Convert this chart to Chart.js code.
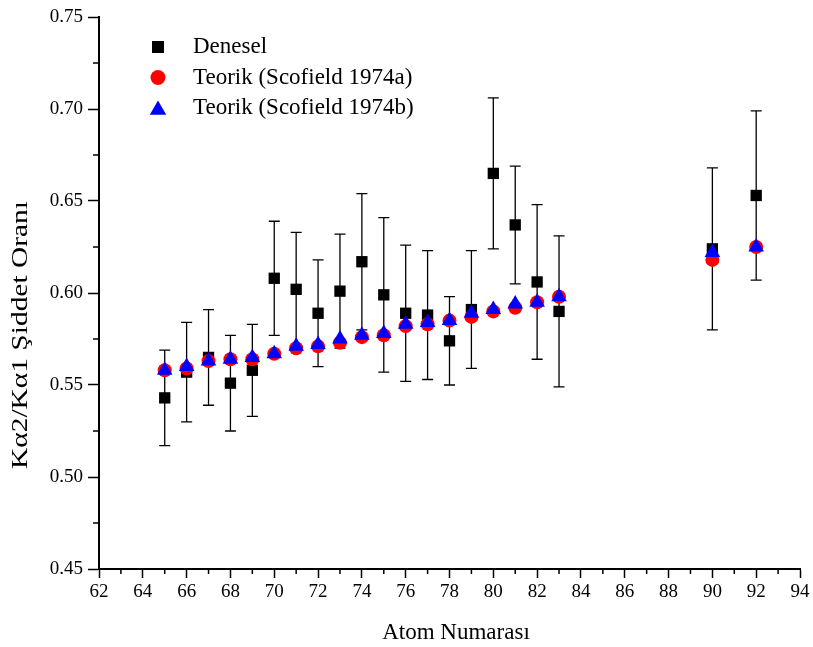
<!DOCTYPE html>
<html>
<head>
<meta charset="utf-8">
<script src="https://cdn.jsdelivr.net/npm/chart.js@4/dist/chart.umd.min.js"></script>
<style>
  html, body { margin: 0; padding: 0; background: #fff; }
  #wrap { width: 813px; height: 647px; }
</style>
</head>
<body>
<div id="wrap"><canvas id="ratioChart"></canvas></div>
<script>
// values
const atomNo = [65, 66, 67, 68, 69, 70, 71, 72, 73, 74, 75, 76, 77, 78, 79, 80, 81, 82, 83, 90, 92];
const denesel = [0.543, 0.557, 0.565, 0.551, 0.558, 0.608, 0.602, 0.589, 0.601, 0.617, 0.599,
  0.589, 0.588, 0.574, 0.591, 0.665, 0.637, 0.606, 0.590, 0.624, 0.653];
const deneselErr = [0.026, 0.027, 0.026, 0.026, 0.025, 0.031, 0.031, 0.029, 0.031, 0.037, 0.042,
  0.037, 0.035, 0.024, 0.032, 0.041, 0.032, 0.042, 0.041, 0.044, 0.046];
const scofieldA = [0.558, 0.559, 0.563, 0.564, 0.564, 0.567, 0.570, 0.571, 0.573, 0.576, 0.577,
  0.582, 0.583, 0.585, 0.587, 0.590, 0.592, 0.595, 0.598, 0.618, 0.625];
const scofieldB = [0.558, 0.560, 0.563, 0.564, 0.565, 0.567, 0.571, 0.572, 0.575, 0.577, 0.578,
  0.583, 0.584, 0.585, 0.589, 0.591, 0.594, 0.595, 0.598, 0.622, 0.625];
const seriesLabels = ['Denesel', 'Teorik (Scofield 1974a)', 'Teorik (Scofield 1974b)'];
const xTickValues = [62, 64, 66, 68, 70, 72, 74, 76, 78, 80, 82, 84, 86, 88, 90, 92, 94];
const yTickValues = [0.45, 0.50, 0.55, 0.60, 0.65, 0.70, 0.75];
const xTitle = 'Atom Numarası';
const yTitle = 'Kα2/Kα1 Şiddet Oranı';

const serif = "'Liberation Serif', 'Times New Roman', serif";
const toPoints = (ys) => atomNo.map((z, i) => ({ x: z, y: ys[i] }));

// error bars for the experimental series, drawn under the markers
const errorBars = {
  id: 'errorBars',
  beforeDatasetsDraw(chart) {
    const { ctx, scales: { x, y } } = chart;
    ctx.save();
    ctx.strokeStyle = '#000';
    ctx.lineWidth = 1.3;
    atomNo.forEach((z, i) => {
      const px = x.getPixelForValue(z);
      const top = y.getPixelForValue(denesel[i] + deneselErr[i]);
      const bot = y.getPixelForValue(denesel[i] - deneselErr[i]);
      ctx.beginPath();
      ctx.moveTo(px, top); ctx.lineTo(px, bot);
      ctx.moveTo(px - 5.5, top); ctx.lineTo(px + 5.5, top);
      ctx.moveTo(px - 5.5, bot); ctx.lineTo(px + 5.5, bot);
      ctx.stroke();
    });
    ctx.restore();
  }
};

// short minor ticks between the labelled ones
const minorTicks = {
  id: 'minorTicks',
  afterDraw(chart) {
    const { ctx, scales: { x, y }, chartArea } = chart;
    ctx.save();
    ctx.strokeStyle = '#000';
    ctx.lineWidth = 1.5;
    ctx.beginPath();
    xTickValues.slice(0, -1).forEach((v) => {
      const px = x.getPixelForValue(v + 1);
      ctx.moveTo(px, chartArea.bottom);
      ctx.lineTo(px, chartArea.bottom + 5);
    });
    yTickValues.slice(0, -1).forEach((v) => {
      const py = y.getPixelForValue(v + 0.025);
      ctx.moveTo(chartArea.left, py);
      ctx.lineTo(chartArea.left - 6, py);
    });
    ctx.stroke();
    ctx.restore();
  }
};

// axis titles, placed by hand like the original
const axisTitles = {
  id: 'axisTitles',
  afterDraw(chart) {
    const { ctx } = chart;
    ctx.save();
    ctx.fillStyle = '#000';
    ctx.font = '23px ' + serif;
    ctx.textAlign = 'center';
    ctx.textBaseline = 'middle';
    ctx.fillText(xTitle, 456, 633);
    ctx.translate(21, 335);
    ctx.rotate(-Math.PI / 2);
    ctx.scale(1.28, 1);
    ctx.fillText(yTitle, 0, 0);
    ctx.restore();
  }
};

// legend placed inside the plot, top left
const innerLegend = {
  id: 'innerLegend',
  afterDraw(chart) {
    const { ctx } = chart;
    ctx.save();
    ctx.font = '23px ' + serif;
    ctx.textBaseline = 'middle';
    chart.data.datasets.forEach((ds, i) => {
      const yy = 47 + i * 30.5;
      ctx.fillStyle = ds.backgroundColor;
      Chart.helpers.drawPoint(ctx, {
        pointStyle: ds.pointStyle,
        radius: ds.pointRadius + 0.5,
        rotation: 0,
        borderWidth: 0
      }, 158, ds.pointStyle === 'triangle' ? yy + 2 : yy);
      ctx.fillStyle = '#000';
      ctx.fillText(ds.label, 193, yy);
    });
    ctx.restore();
  }
};

const ctx = document.getElementById('ratioChart').getContext('2d');
const chart = new Chart(ctx, {
  type: 'scatter',
  data: {
    datasets: [
      {
        label: seriesLabels[0],
        data: toPoints(denesel),
        pointStyle: 'rect',
        pointRadius: 8,
        backgroundColor: '#000',
        borderWidth: 0,
        order: 3
      },
      {
        label: seriesLabels[1],
        data: toPoints(scofieldA),
        pointStyle: 'circle',
        pointRadius: 7,
        backgroundColor: '#ff0000',
        borderWidth: 0,
        order: 2
      },
      {
        label: seriesLabels[2],
        data: toPoints(scofieldB),
        pointStyle: 'triangle',
        pointRadius: 9,
        backgroundColor: '#0000ff',
        borderWidth: 0,
        order: 1
      }
    ]
  },
  options: {
    responsive: true,
    maintainAspectRatio: false,
    animation: false,
    layout: { padding: { left: 0, right: 13, top: 17, bottom: 0 } },
    plugins: {
      legend: { display: false },
      tooltip: { enabled: false }
    },
    scales: {
      x: {
        type: 'linear',
        min: 62,
        max: 94,
        afterBuildTicks: (scale) => { scale.ticks = xTickValues.map((v) => ({ value: v })); },
        afterFit: (scale) => { scale.height = 78; },
        grid: { display: true, drawOnChartArea: false, tickLength: 9, tickColor: '#000', tickWidth: 1.5 },
        border: { display: true, color: '#000', width: 2 },
        ticks: { color: '#000', font: { family: serif, size: 19 }, padding: 3, maxRotation: 0 }
      },
      y: {
        type: 'linear',
        min: 0.45,
        max: 0.75,
        afterBuildTicks: (scale) => { scale.ticks = yTickValues.map((v) => ({ value: v })); },
        afterFit: (scale) => { scale.width = 99; },
        grid: { display: true, drawOnChartArea: false, tickLength: 11, tickColor: '#000', tickWidth: 1.5 },
        border: { display: true, color: '#000', width: 2 },
        ticks: {
          color: '#000',
          font: { family: serif, size: 19 },
          padding: 5,
          callback: (v) => Number(v).toFixed(2)
        }
      }
    }
  },
  plugins: [errorBars, minorTicks, axisTitles, innerLegend]
});
</script>
</body>
</html>
